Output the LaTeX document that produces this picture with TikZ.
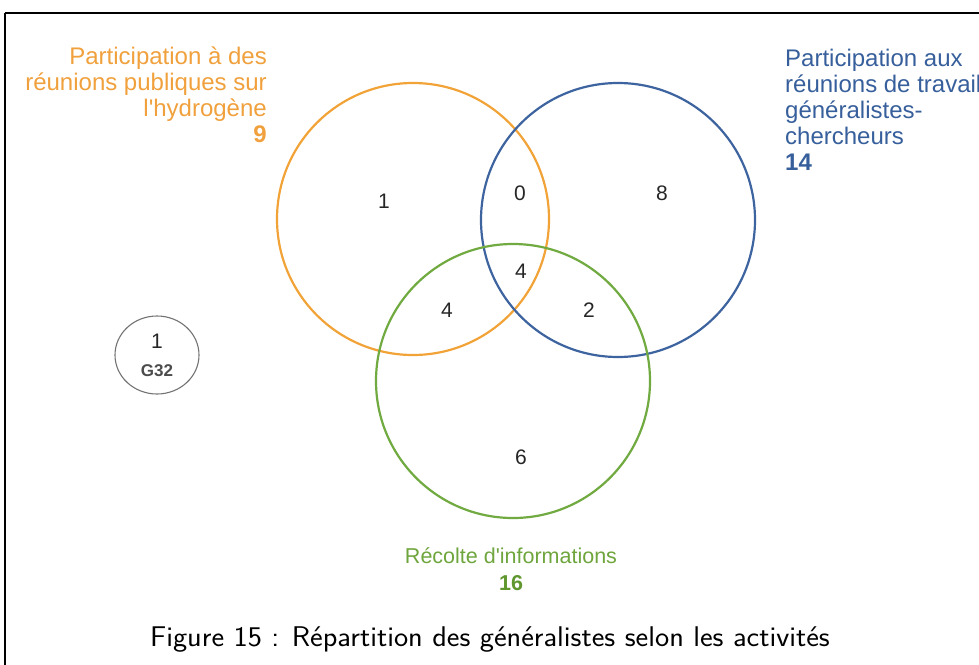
\documentclass[tikz,border=0pt]{standalone}
\usepackage{fontspec}
\setmainfont{Liberation Sans}
\definecolor{vorange}{RGB}{242,163,56}
\definecolor{vblue}{RGB}{62,100,160}
\definecolor{vgreen}{RGB}{112,170,64}
\definecolor{torange}{RGB}{240,160,60}
\definecolor{tblue}{RGB}{55,95,155}
\definecolor{tgreen}{RGB}{110,165,60}
\definecolor{tgreendark}{RGB}{95,150,45}
\begin{document}
\begin{tikzpicture}[x=1pt,y=-1pt,
  setcircle/.style={draw, line width=2.2pt},
  num/.style={font=\fontsize{21}{24}\selectfont, text=black!85, inner sep=0pt},
  lbl/.style={font=\fontsize{24}{26}\selectfont, inner sep=0pt},
]
\useasboundingbox (0,0) rectangle (979,664);
\clip (0,0) rectangle (979,664);
\draw[line width=1.4pt] (5,13) -- (5,680);
\draw[line width=1.4pt] (5,13) -- (1000,13);
% circles
\draw[setcircle, vorange] (413,219) circle (136);
\draw[setcircle, vblue] (618,220) circle (137);
\draw[setcircle, vgreen] (513,381) circle (137);
% region counts
\node[num] (n1) at (384,201) {1};
\node[num] (n0) at (520,193) {0};
\node[num] (n8) at (662,193) {8};
\node[num] (n4c) at (521,271) {4};
\node[num] (n4l) at (447,310) {4};
\node[num] (n2) at (589,310) {2};
\node[num] (n6) at (521,457) {6};
% set labels
\node[lbl, text=torange, align=right, anchor=north east] (lo) at (267,47)
  {Participation à des\\réunions publiques sur\\l\textquotesingle hydrogène\\\textbf{9}};
\node[lbl, text=tblue, align=left, anchor=north west] (lb) at (785,49)
  {Participation aux\\réunions de travail\\généralistes-\\chercheurs\\\textbf{14}};
\node[font=\fontsize{21.5}{27}\selectfont, inner sep=0pt, text=tgreen, align=center, anchor=north] (lg) at (511,547)
  {Récolte d\textquotesingle informations\\\textcolor{tgreendark}{\textbf{16}}};
% G32
\draw[line width=1.1pt, black!55] (157,355) ellipse (42 and 39);
\node[font=\fontsize{21}{22}\selectfont, text=black!85, inner sep=0pt] (g1) at (157,341) {1};
\node[font=\fontsize{17}{18}\selectfont\bfseries, text=black!70, inner sep=0pt] (g32) at (157,371) {G32};
% caption
\node[font=\sffamily\fontsize{28.5}{30}\selectfont, anchor=base, xscale=1.06] (cap) at (490,646)
  {Figure 15 : Répartition des généralistes selon les activités};
\end{tikzpicture}
\end{document}
